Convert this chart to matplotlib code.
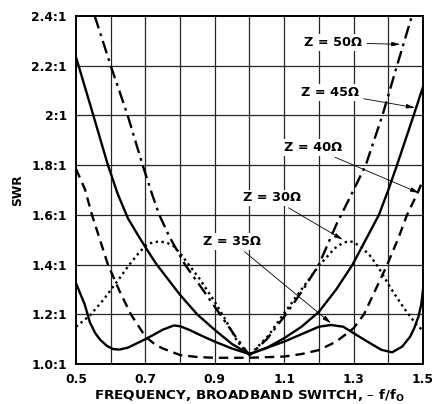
import matplotlib
matplotlib.use("Agg")
import matplotlib.pyplot as plt

plt.rcParams['font.family'] = ['DejaVu Sans']
plt.rcParams['font.weight'] = 'bold'
plt.rcParams['mathtext.fontset'] = 'dejavusans'

# curves (x = f/fo, y = SWR)
z50_x = [0.554, 0.600, 0.649, 0.692, 0.720, 0.740, 0.770, 0.814, 0.860, 0.915, 0.960, 1.000,
         1.050, 1.105, 1.150, 1.200, 1.250, 1.300, 1.335, 1.383, 1.425, 1.468]
z50_y = [2.40, 2.20, 2.00, 1.80, 1.68, 1.60, 1.51, 1.40, 1.31, 1.20, 1.11, 1.035,
         1.10, 1.20, 1.29, 1.40, 1.56, 1.70, 1.80, 2.00, 2.20, 2.40]

z45_x = [0.500, 0.550, 0.592, 0.620, 0.650, 0.680, 0.700, 0.730, 0.800, 0.849, 0.900, 0.950,
         1.000, 1.050, 1.100, 1.150, 1.200, 1.250, 1.297, 1.373, 1.400, 1.425, 1.473, 1.500]
z45_y = [2.235, 2.00, 1.80, 1.685, 1.585, 1.515, 1.47, 1.405, 1.278, 1.20, 1.137, 1.08,
         1.04, 1.065, 1.104, 1.15, 1.21, 1.30, 1.40, 1.60, 1.70, 1.80, 2.00, 2.115]

z40_x = [0.500, 0.526, 0.546, 0.592, 0.625, 0.658, 0.700, 0.725, 0.749, 0.800, 0.850, 0.900,
         1.000, 1.100, 1.150, 1.200, 1.250, 1.300, 1.330, 1.397, 1.430, 1.454, 1.485, 1.500]
z40_y = [1.785, 1.702, 1.60, 1.40, 1.295, 1.20, 1.11, 1.082, 1.063, 1.036, 1.028, 1.025,
         1.025, 1.03, 1.04, 1.056, 1.09, 1.144, 1.20, 1.40, 1.51, 1.60, 1.69, 1.74]

z30_x = [0.500, 0.540, 0.580, 0.620, 0.654, 0.680, 0.700, 0.720, 0.740, 0.760, 0.780, 0.800,
         0.825, 0.855, 0.900, 0.930, 0.965, 1.000, 1.055, 1.095, 1.150, 1.200, 1.245, 1.270,
         1.288, 1.300, 1.320, 1.345, 1.370, 1.407, 1.445, 1.483, 1.500]
z30_y = [1.150, 1.195, 1.260, 1.335, 1.400, 1.445, 1.475, 1.489, 1.493, 1.489, 1.476, 1.445,
         1.400, 1.345, 1.250, 1.180, 1.090, 1.035, 1.115, 1.195, 1.300, 1.395, 1.465, 1.488,
         1.494, 1.490, 1.472, 1.440, 1.392, 1.305, 1.225, 1.155, 1.135]

z35_x = [0.500, 0.525, 0.540, 0.555, 0.570, 0.590, 0.607, 0.625, 0.650, 0.675, 0.700, 0.723,
         0.750, 0.782, 0.800, 0.827, 0.860, 0.900, 0.950, 1.000, 1.050, 1.100, 1.150, 1.200,
         1.235, 1.270, 1.300, 1.340, 1.380, 1.411, 1.440, 1.463, 1.475, 1.487, 1.495, 1.500]
z35_y = [1.325, 1.24, 1.168, 1.125, 1.097, 1.072, 1.060, 1.058, 1.066, 1.083, 1.100, 1.117,
         1.138, 1.155, 1.152, 1.137, 1.115, 1.090, 1.062, 1.040, 1.065, 1.090, 1.120, 1.150,
         1.157, 1.150, 1.124, 1.090, 1.057, 1.047, 1.070, 1.110, 1.145, 1.191, 1.240, 1.300]

x_ticks = [0.5, 0.7, 0.9, 1.1, 1.3, 1.5]
x_grid = [0.6, 0.7, 0.8, 0.9, 1.0, 1.1, 1.2, 1.3, 1.4]
y_ticks = [1.0, 1.2, 1.4, 1.6, 1.8, 2.0, 2.2, 2.4]
y_tick_labels = ['1.0:1', '1.2:1', '1.4:1', '1.6:1', '1.8:1', '2:1', '2.2:1', '2.4:1']

# label text, text position, arrow tip
labels = ['Z = 50Ω', 'Z = 45Ω', 'Z = 40Ω', 'Z = 30Ω', 'Z = 35Ω']
label_pos = [(1.241, 2.293), (1.232, 2.091), (1.182, 1.870), (1.064, 1.668), (0.950, 1.493)]
arrow_tip = [(1.435, 2.286), (1.477, 2.031), (1.489, 1.688), (1.269, 1.500), (1.235, 1.164)]

fig = plt.figure(figsize=(4.39, 4.04), dpi=100)
ax = fig.add_axes([76 / 439, 1 - 364 / 404, 347 / 439, 348 / 404])

for gx in x_grid:
    ax.axvline(gx, color='0.15', lw=0.9, zorder=1)
for gy in y_ticks[1:-1]:
    ax.axhline(gy, color='0.15', lw=0.9, zorder=1)

lw = 1.7
ax.plot(z50_x, z50_y, color='k', lw=lw, ls=(0, (5.5, 2.2, 1.2, 2.2)), zorder=3)
ax.plot(z45_x, z45_y, color='k', lw=lw, zorder=3)
ax.plot(z40_x, z40_y, color='k', lw=lw, ls=(0, (4, 2.5)), zorder=3)
ax.plot(z30_x, z30_y, color='k', lw=lw, ls=(0, (1, 1.5)), zorder=3)
ax.plot(z35_x, z35_y, color='k', lw=lw, zorder=3)

for txt, pos, tip in zip(labels, label_pos, arrow_tip):
    ax.annotate(txt, xy=tip, xytext=pos, ha='center', va='center',
                fontsize=9.3, fontweight='bold', zorder=5,
                bbox=dict(boxstyle='square,pad=0.15', fc='white', ec='none'),
                arrowprops=dict(arrowstyle='-|>,head_length=0.55,head_width=0.14',
                                color='k', lw=0.6, shrinkA=2, shrinkB=0))

ax.set_xlim(0.5, 1.5)
ax.set_ylim(1.0, 2.4)
ax.set_xticks(x_ticks)
ax.set_xticklabels([f'{v:.1f}' for v in x_ticks], fontsize=8.8, fontweight='bold')
ax.set_yticks(y_ticks)
ax.set_yticklabels(y_tick_labels, fontsize=8.8, fontweight='bold')
ax.tick_params(length=0, pad=6.5)
for s in ax.spines.values():
    s.set_linewidth(1.4)

ax.set_xlabel(r'FREQUENCY, BROADBAND SWITCH, – f/f$_\mathbf{O}$',
              fontsize=9.7, fontweight='bold', labelpad=1)
ax.set_ylabel('SWR', fontsize=8.8, fontweight='bold', labelpad=5)

fig.savefig('out.png', dpi=100)
